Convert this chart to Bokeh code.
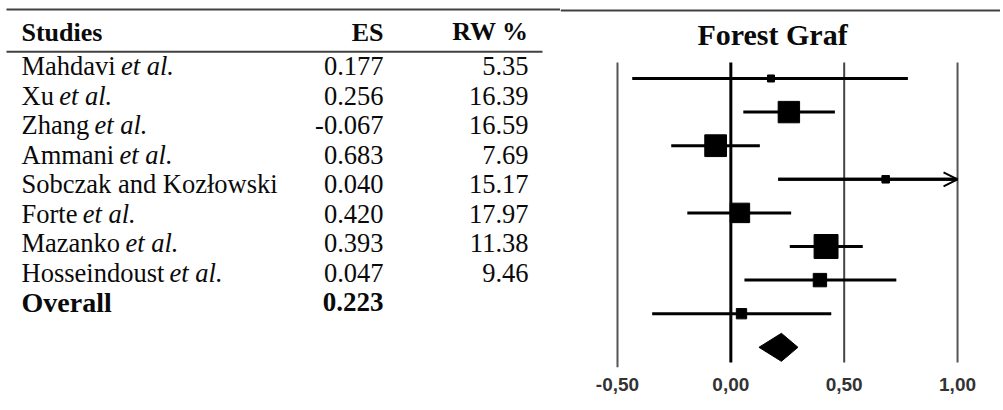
from bokeh.plotting import figure
from bokeh.models import Range1d, FixedTicker, Arrow, OpenHead
from bokeh.layouts import row
from bokeh.embed import file_html
from bokeh.resources import INLINE
from bokeh.core.properties import value

# ---------------- data ----------------
studies = ["Mahdavi", "Xu", "Zhang", "Ammani", "Sobczak and Kozłowski",
           "Forte", "Mazanko", "Hosseindoust"]
suffix = ["et al.", "et al.", "et al.", "et al.", "", "et al.", "et al.", "et al."]
es = [0.177, 0.256, -0.067, 0.683, 0.040, 0.420, 0.393, 0.047]
rw = [5.35, 16.39, 16.59, 7.69, 15.17, 17.97, 11.38, 9.46]
ci_low = [-0.435, 0.055, -0.263, 0.209, -0.192, 0.260, 0.060, -0.347]
ci_high = [0.781, 0.459, 0.128, 1.157, 0.266, 0.582, 0.730, 0.443]
overall_label = "Overall"
overall_es = 0.223
overall_low = 0.124
overall_high = 0.296
headers = ["Studies", "ES", "RW %"]
forest_title = "Forest Graf"
tick_values = [-0.5, 0.0, 0.5, 1.0]
tick_labels = ["-0,50", "0,00", "0,50", "1,00"]

# ---------------- helpers ----------------
SERIF = value("Liberation Serif")
TW = {'M': 889, 'a': 444, 'h': 500, 'd': 500, 'v': 500, 'i': 278, 'X': 722,
      'u': 500, 'Z': 611, 'n': 500, 'g': 500, 'A': 722, 'm': 778, 'S': 556,
      'o': 500, 'b': 500, 'c': 444, 'z': 444, 'k': 500, 'K': 722, 'ł': 278,
      'w': 722, 's': 389, 'F': 556, 'r': 333, 't': 278, 'e': 444, 'H': 722,
      'l': 278, ' ': 250}


def text_width(s, size):
    return sum(TW.get(c, 500) for c in s) * size / 1000.0


H = 408
FS = 26.5
rows = list(range(len(studies)))
overall_row = len(studies)

# ---------------- table ----------------
tab = figure(width=560, height=H, x_range=Range1d(0, 560),
             y_range=Range1d(10.213, -2.226), output_backend="svg",
             toolbar_location=None, min_border=0,
             x_axis_location=None, y_axis_location=None)
tab.grid.visible = False
tab.outline_line_color = None

tab.segment(x0=[6, 6], x1=[560, 542], y0=[-1.921, -0.488], y1=[-1.921, -0.488],
            line_color="#404040", line_width=2)

NAME_X, ES_X, RW_X = 21, 383, 528
common = dict(text_font=SERIF, text_baseline="middle", text_color="#0a0a0a")

tab.text(x=[NAME_X], y=[-1.128], text=[headers[0]], text_align="left",
         text_font_size="26px", text_font_style="bold", **common)
tab.text(x=[ES_X], y=[-1.128], text=[headers[1]], text_align="right",
         text_font_size="26px", text_font_style="bold", **common)
tab.text(x=[RW_X], y=[-1.189], text=[headers[2]], text_align="right",
         text_font_size="26px", text_font_style="bold", **common)

tab.text(x=[NAME_X] * len(studies), y=rows, text=studies, text_align="left",
         text_font_size=f"{FS}px", **common)
sx = [NAME_X + text_width(n, FS) + 0.2 * FS for n in studies]
tab.text(x=sx, y=rows, text=suffix, text_align="left",
         text_font_size=f"{FS}px", text_font_style="italic", **common)
tab.text(x=[ES_X] * len(es), y=rows, text=[f"{v:.3f}" for v in es],
         text_align="right", text_font_size=f"{FS}px", **common)
tab.text(x=[RW_X] * len(rw), y=rows, text=[f"{v:.2f}" for v in rw],
         text_align="right", text_font_size=f"{FS}px", **common)
tab.text(x=[NAME_X], y=[overall_row], text=[overall_label], text_align="left",
         text_font_size="28px", text_font_style="bold", **common)
tab.text(x=[ES_X], y=[overall_row], text=[f"{overall_es:.3f}"],
         text_align="right", text_font_size="27px",
         text_font_style="bold", **common)

# ---------------- forest ----------------
fp = figure(width=440, height=H, x_range=Range1d(-0.7514, 1.1895),
            y_range=Range1d(8.601, -2.321), output_backend="svg",
            toolbar_location=None, min_border=0, min_border_bottom=41,
            y_axis_location=None)
fp.grid.visible = False
fp.outline_line_color = None
ax = fp.xaxis[0]
ax.ticker = FixedTicker(ticks=tick_values)
ax.major_label_overrides = {t: l for t, l in zip(tick_values, tick_labels)}
ax.axis_line_color = None
ax.major_tick_line_color = None
ax.minor_tick_line_color = None
ax.major_tick_out = 0
ax.major_tick_in = 0
ax.major_label_standoff = 10
ax.major_label_text_font = "Liberation Sans"
ax.major_label_text_font_style = "bold"
ax.major_label_text_font_size = "19px"
ax.major_label_text_color = "#333333"

fp.segment(x0=[-0.7514], x1=[1.1895], y0=[-2.024], y1=[-2.024],
           line_color="#404040", line_width=2)
fp.text(x=[0.1838], y=[-1.31], text=[forest_title], text_align="center",
        text_baseline="middle", text_font=SERIF, text_font_size="30px",
        text_font_style="bold", text_color="#0a0a0a")

# reference lines at tick values
vl_colors = ["#555555", "#000000", "#444444", "#555555"]
vl_widths = [2, 3, 2, 2]
vl_end = [8.6, 8.452, 8.452, 8.452]
fp.segment(x0=tick_values, x1=tick_values, y0=[-0.476] * len(tick_values),
           y1=vl_end, line_color=vl_colors, line_width=vl_widths)

xmax = tick_values[-1]
hi_clip = [min(h, xmax) for h in ci_high]
fp.segment(x0=ci_low, x1=hi_clip, y0=rows, y1=rows,
           line_color="black", line_width=3)
for lo, h, hc, r in zip(ci_low, ci_high, hi_clip, rows):
    if h > xmax:
        fp.add_layout(Arrow(end=OpenHead(size=14, line_width=2, line_color="black"),
                            x_start=lo, x_end=hc, y_start=r, y_end=r,
                            line_width=3, line_color="black"))

sizes = [max(7.0, (w - 3.0) * 1.6) for w in rw]
fp.scatter(x=es, y=rows, marker="square", size=sizes,
           fill_color="black", line_color="black")

dh = 0.417
fp.patch(x=[overall_low, overall_es, overall_high, overall_es],
         y=[overall_row, overall_row - dh, overall_row, overall_row + dh],
         fill_color="black", line_color="black")

layout = row(tab, fp)
open("out.html", "w").write(file_html(layout, INLINE))
